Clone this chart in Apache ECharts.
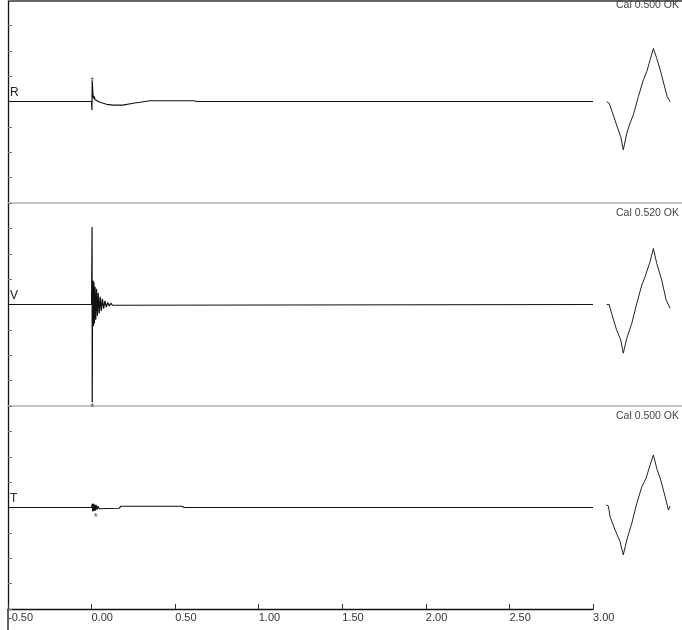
<!DOCTYPE html>
<html>
<head>
<meta charset="utf-8">
<script src="https://cdn.jsdelivr.net/npm/echarts@6/dist/echarts.min.js"></script>
<style>
html,body{margin:0;padding:0;background:#fff;}
#chart{width:682px;height:630px;}
</style>
</head>
<body>
<div id="chart"></div>
<script>
// ---- data (time in s, amplitude in divisions) ----
const channelNames = ['R', 'V', 'T'];
const calLabels = ['Cal 0.500 OK', 'Cal 0.520 OK', 'Cal 0.500 OK'];

const rTime  = [-0.5, 0.000, 0.002, 0.004, 0.008, 0.012, 0.016, 0.020, 0.026, 0.035, 0.050, 0.090, 0.130, 0.188, 0.248, 0.290, 0.350, 0.610, 0.630, 3.0];
const rValue = [0, 0, -0.33, 0.82, 0.30, 0.12, 0.20, 0.08, 0.10, 0.02, -0.03, -0.11, -0.14, -0.14, -0.07, -0.03, 0.03, 0.03, 0.0, 0];

const vTime  = [-0.5, 0.000, 0.003, 0.004, 0.006, 0.008, 0.011, 0.014, 0.017, 0.021, 0.025, 0.030, 0.035, 0.040, 0.046, 0.052, 0.058, 0.065, 0.072, 0.080, 0.088, 0.097, 0.106, 0.115, 0.125, 0.135, 3.0];
const vValue = [0, 0, 3.05, -3.85, 0.2, 0.95, -0.85, 0.90, -0.75, 0.70, -0.60, 0.62, -0.45, 0.45, -0.35, 0.30, -0.25, 0.22, -0.16, 0.14, -0.10, 0.08, -0.06, 0.05, -0.03, 0.0, 0];

const tTime  = [-0.5, 0.000, 0.004, 0.007, 0.010, 0.014, 0.018, 0.022, 0.027, 0.032, 0.038, 0.045, 0.100, 0.165, 0.175, 0.540, 0.555, 3.0];
const tValue = [0, 0, 0.14, -0.16, 0.16, -0.14, 0.12, -0.12, 0.10, -0.08, 0.05, -0.05, -0.04, -0.03, 0.05, 0.05, 0, 0];

// pick markers (*)
const pickTime  = [0.004, 0.004, 0.025];
const pickValue = [0.85, -4.0, -0.33];

// calibration pulses (time from start of cal window, s)
const cal1Time  = [0.082, 0.097, 0.121, 0.151, 0.166, 0.181, 0.202, 0.221, 0.241, 0.271, 0.301, 0.321, 0.341, 0.361, 0.381, 0.405, 0.425, 0.444, 0.461];
const cal1Value = [-0.01, -0.07, -0.53, -1.12, -1.39, -1.91, -1.25, -0.86, -0.53, 0.19, 0.85, 1.17, 1.63, 2.09, 1.70, 1.17, 0.65, 0.19, -0.01];

const cal2Time  = [0.082, 0.097, 0.111, 0.141, 0.166, 0.181, 0.202, 0.232, 0.262, 0.292, 0.311, 0.341, 0.361, 0.381, 0.411, 0.437, 0.461];
const cal2Value = [0.0, 0.0, -0.35, -1.00, -1.40, -1.92, -1.33, -0.74, 0.05, 0.77, 1.09, 1.69, 2.21, 1.62, 0.96, 0.18, -0.15];

const cal3Time  = [0.078, 0.092, 0.102, 0.132, 0.162, 0.181, 0.202, 0.232, 0.262, 0.292, 0.317, 0.341, 0.361, 0.381, 0.405, 0.431, 0.451, 0.461];
const cal3Value = [0.10, 0.06, -0.36, -0.89, -1.35, -1.87, -1.28, -0.62, 0.17, 0.82, 1.15, 1.67, 2.07, 1.54, 1.08, 0.43, -0.10, 0.06];

const timeMin = -0.5, timeMax = 3.0, timeStep = 0.5;
const calWindow = 0.532;

// ---- build chart ----
const traces = [[rTime, rValue], [vTime, vValue], [tTime, tValue]];
const cals = [[cal1Time, cal1Value], [cal2Time, cal2Value], [cal3Time, cal3Value]];
const zip = (a, b) => a.map((x, i) => [x, b[i]]);

const panelTop = [0, 203, 406];
const panelH = 203;
const grids = [], xAxes = [], yAxes = [], series = [];
const FONT = 'Liberation Sans';

for (let p = 0; p < 3; p++) {
  const last = p === 2;
  // main grid
  grids.push({left: 8, top: panelTop[p], width: 585, height: panelH});
  xAxes.push({
    gridIndex: grids.length - 1, type: 'value', min: timeMin, max: timeMax, interval: timeStep,
    axisLine: {show: true, onZero: false, lineStyle: last ? {color: '#111', width: 1.3} : {color: '#b4b4b4', width: 1.5}},
    axisTick: {show: last, inside: true, length: 5, lineStyle: {color: '#333'}},
    axisLabel: {show: last, align: 'left', margin: 3, fontFamily: FONT, fontSize: 11, color: '#333',
      formatter: v => v.toFixed(2)},
    splitLine: {show: false}
  });
  yAxes.push({
    gridIndex: grids.length - 1, type: 'value', min: -4, max: 4, interval: 1,
    axisLine: {show: true, onZero: false, lineStyle: {color: '#111', width: 1.3}},
    axisTick: {show: true, inside: true, length: 4, lineStyle: {color: '#777'}},
    axisLabel: {show: false}, splitLine: {show: false}
  });
  const mi = grids.length - 1;
  series.push({
    type: 'line', xAxisIndex: mi, yAxisIndex: mi, data: zip(traces[p][0], traces[p][1]),
    showSymbol: false, symbol: 'none', lineStyle: {color: '#111', width: 1.2}, silent: true
  });
  series.push({
    type: 'scatter', xAxisIndex: mi, yAxisIndex: mi, data: [[pickTime[p], pickValue[p]]],
    symbolSize: 1, itemStyle: {color: 'rgba(0,0,0,0)'}, silent: true,
    label: {show: true, formatter: '*', position: 'inside', fontSize: 10, color: '#333', fontFamily: FONT, offset: [0, 2]}
  });
  // cal grid
  grids.push({left: 593, top: panelTop[p], width: 89, height: panelH});
  xAxes.push({
    gridIndex: grids.length - 1, type: 'value', min: 0, max: calWindow,
    axisLine: {show: !last, onZero: false, lineStyle: {color: '#b4b4b4', width: 1.5}},
    axisTick: {show: false}, axisLabel: {show: false}, splitLine: {show: false}
  });
  yAxes.push({
    gridIndex: grids.length - 1, type: 'value', min: -4, max: 4,
    axisLine: {show: false}, axisTick: {show: false}, axisLabel: {show: false}, splitLine: {show: false}
  });
  const ci = grids.length - 1;
  series.push({
    type: 'line', xAxisIndex: ci, yAxisIndex: ci, data: zip(cals[p][0], cals[p][1]),
    showSymbol: false, symbol: 'none', lineStyle: {color: '#222', width: 1}, silent: true
  });
}

const graphics = [
  {type: 'line', shape: {x1: 8, y1: 1, x2: 682, y2: 1}, style: {stroke: '#333', lineWidth: 1.5}},
  {type: 'line', shape: {x1: 8, y1: 609, x2: 8, y2: 630}, style: {stroke: '#111', lineWidth: 1.3}}
];
for (let p = 0; p < 3; p++) {
  graphics.push({type: 'text', left: 10, top: panelTop[p] + 87,
    style: {text: channelNames[p], font: '12px ' + FONT, fill: '#222'}});
  graphics.push({type: 'text', right: 3, top: panelTop[p] + (p === 0 ? 0 : 5),
    style: {text: calLabels[p], font: '10.5px ' + FONT, fill: '#444'}});
}

const chart = echarts.init(document.getElementById('chart'), null, {renderer: 'canvas'});
chart.setOption({
  animation: false,
  grid: grids, xAxis: xAxes, yAxis: yAxes, series: series, graphic: graphics
});
</script>
</body>
</html>
